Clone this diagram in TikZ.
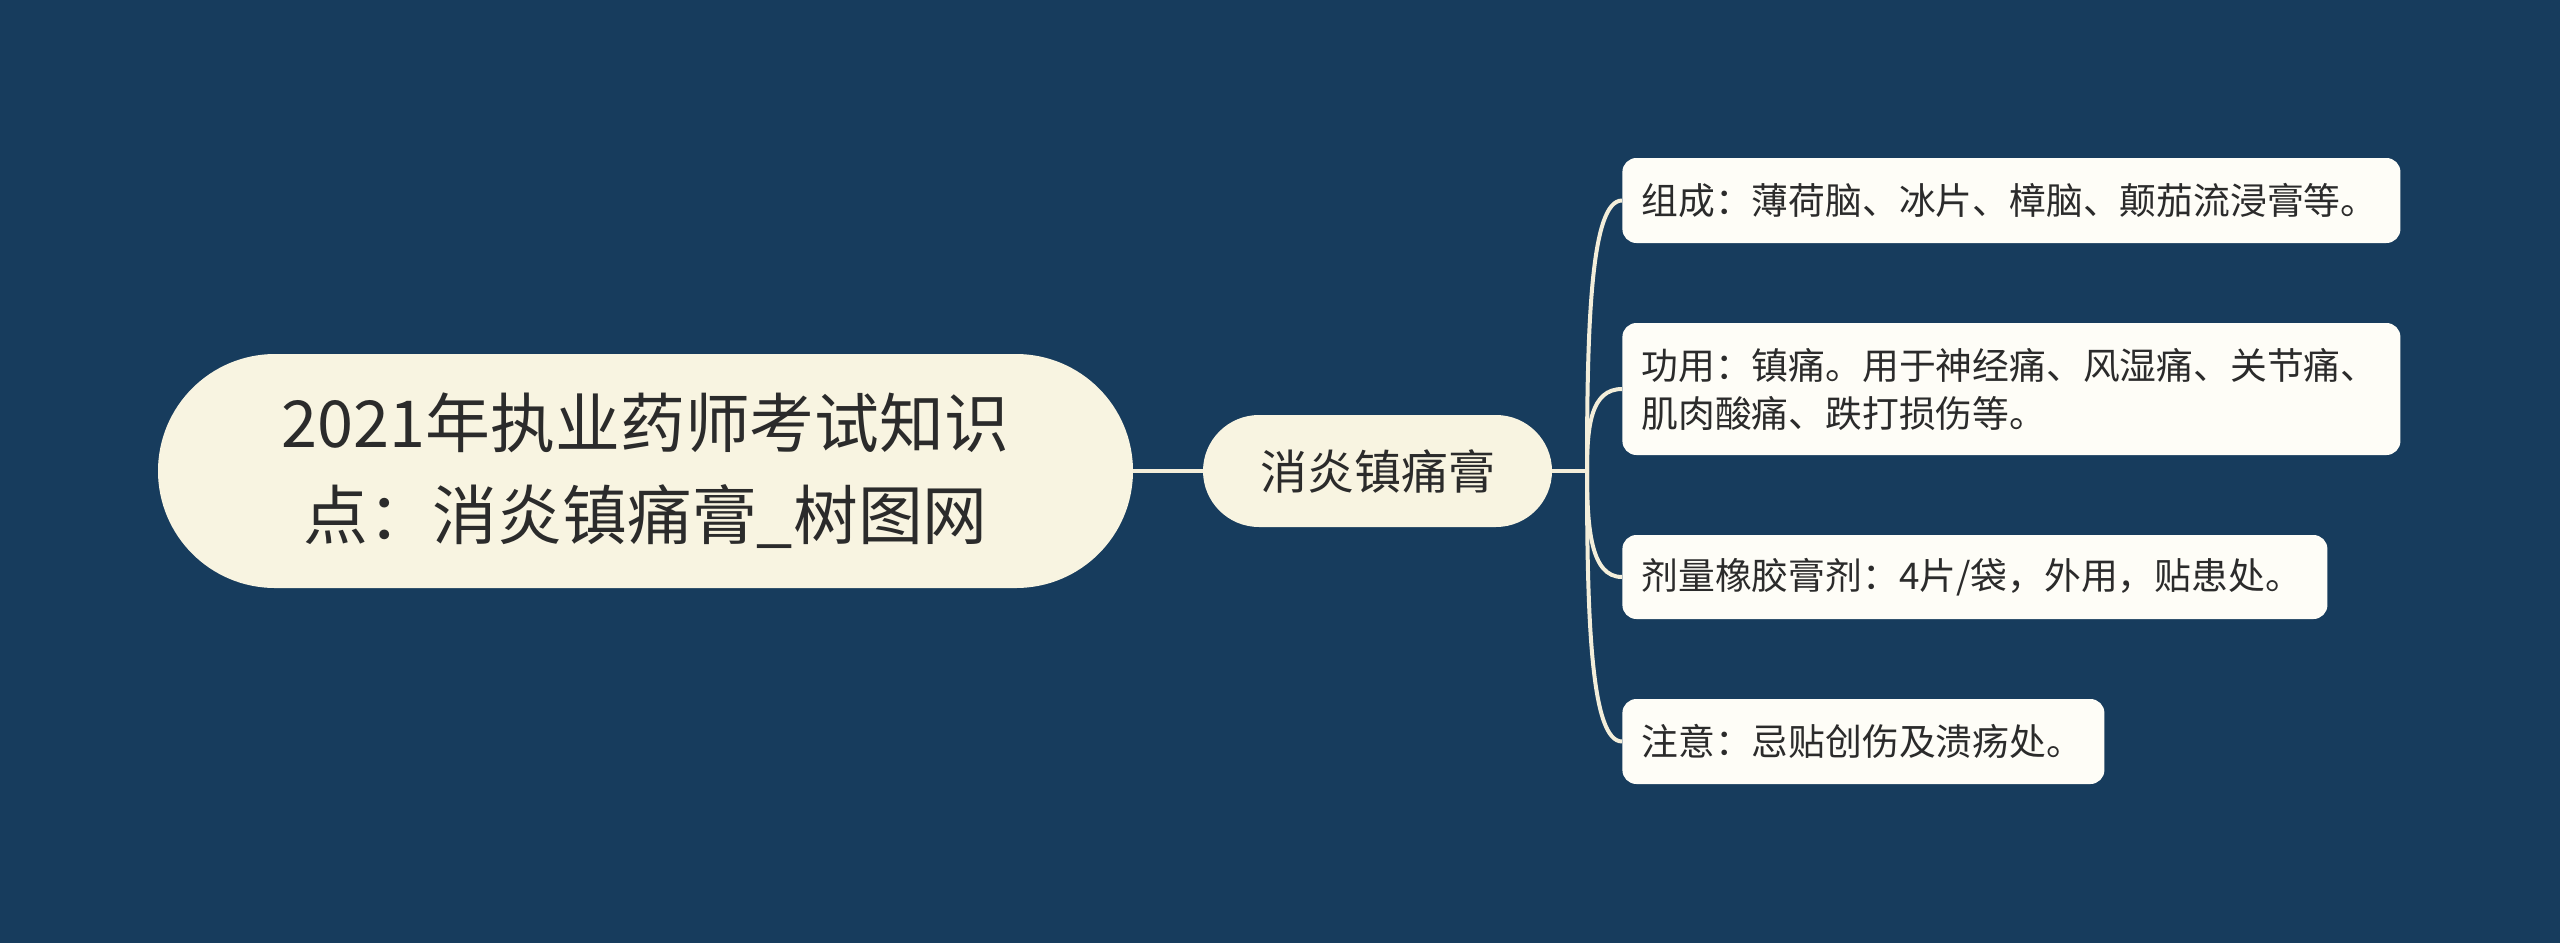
\documentclass[tikz,border=0pt]{standalone}
\usepackage{fontspec}
\setmainfont{Noto Sans CJK SC}
\usetikzlibrary{calc}
\definecolor{bg}{HTML}{173C5D}
\definecolor{rootfill}{HTML}{F8F4E1}
\definecolor{leaffill}{HTML}{FEFDF7}
\definecolor{linec}{HTML}{F3EEDA}
\definecolor{txt}{HTML}{2B2B2B}
\tikzset{
  rootbox/.style={fill=rootfill, rounded corners=58.5pt, minimum width=487.5pt, minimum height=117pt,
    align=center, text=txt, inner sep=0pt, font=\fontsize{32.4}{46}\selectfont},
  midbox/.style={fill=rootfill, rounded corners=28pt, minimum width=174.5pt, minimum height=56pt,
    align=center, text=txt, inner sep=0pt, font=\fontsize{23.5}{28}\selectfont},
  leafbox/.style={fill=leaffill, rounded corners=7pt, anchor=west, align=left, text=txt,
    inner xsep=9.5pt, inner ysep=0pt, font=\fontsize{18.4}{24}\selectfont},
  conn/.style={draw=linec, line width=2pt},
}
\begin{document}
\begin{tikzpicture}[x=0.5pt,y=-0.5pt]
\fill[bg] (0,0) rectangle (2560,943);
\useasboundingbox (0,0) rectangle (2560,943);

\node[rootbox] (root) at (645.5,471) {2021年执业药师考试知识\\点：消炎镇痛膏\_树图网};
\node[midbox] (mid) at (1377.5,471) {消炎镇痛膏};

\node[leafbox, text width=370pt, minimum height=42.5pt] (l1) at (1622,200.5) {组成：薄荷脑、冰片、樟脑、颠茄流浸膏等。};
\node[leafbox, text width=370pt, minimum height=66pt] (l2) at (1622,389) {功用：镇痛。用于神经痛、风湿痛、关节痛、\\肌肉酸痛、跌打损伤等。};
\node[leafbox, text width=333.5pt, minimum height=42pt] (l3) at (1622,577) {剂量橡胶膏剂：4片/袋，外用，贴患处。};
\node[leafbox, text width=222pt, minimum height=42.5pt] (l4) at (1622,741.5) {注意：忌贴创伤及溃疡处。};

\coordinate (T) at (1587,471);
\draw[conn] (root.east) -- (mid.west);
\draw[conn] (mid.east) -- (T);
\foreach \n in {l1,l2,l3,l4}{
  \draw[conn] (T) .. controls ($(T)!0.55!(T |- \n.west)$) and ($(T |- \n.west)+(4,0)$) .. (\n.west);
}
\end{tikzpicture}
\end{document}
